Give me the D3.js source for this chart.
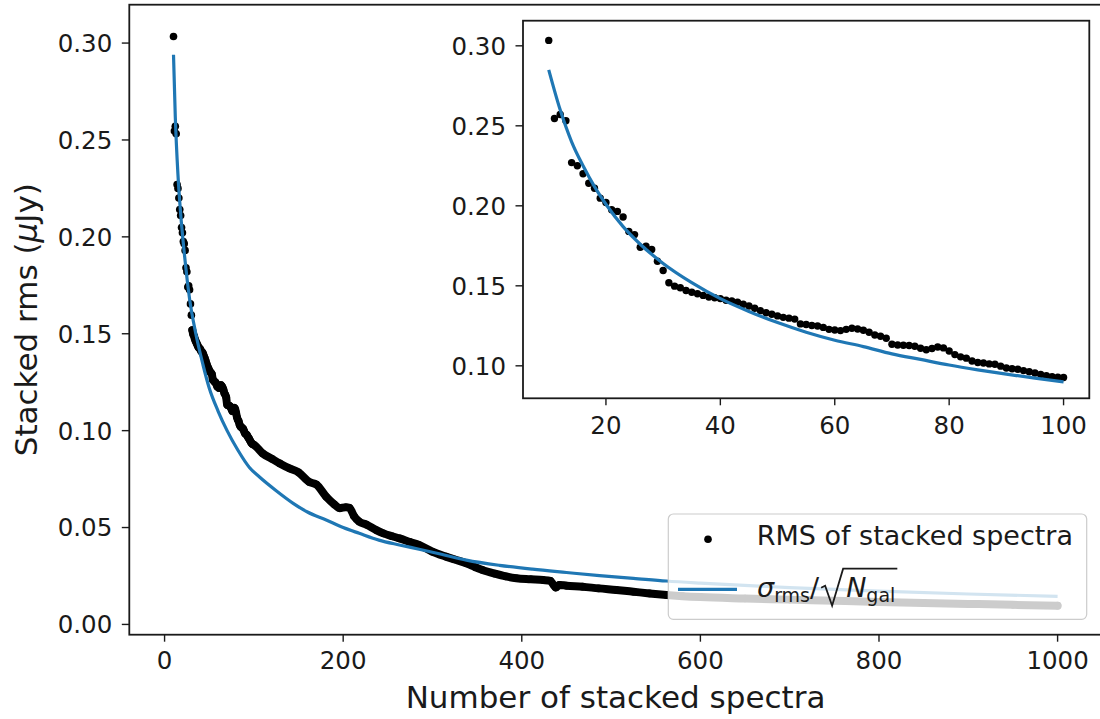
<!DOCTYPE html>
<html>
<head>
<meta charset="utf-8">
<script src="https://cdn.jsdelivr.net/npm/d3@7"></script>
<style>
  html, body { margin: 0; padding: 0; background: #fff; }
  svg { display: block; font-family: "DejaVu Sans", sans-serif; }
</style>
</head>
<body>
<script>
// rms of the stacked spectra, one value per N from 10 to 100
const denseN = d3.range(10, 101);
const denseRms = [
  0.3034, 0.2546, 0.2571, 0.2532, 0.2270, 0.2250, 0.2200, 0.2141, 0.2110, 0.2048,
  0.2021, 0.1976, 0.1965, 0.1930, 0.1840, 0.1820, 0.1741, 0.1747, 0.1727, 0.1654,
  0.1596, 0.1519, 0.1498, 0.1488, 0.1471, 0.1460, 0.1450, 0.1440, 0.1430, 0.1425,
  0.1420, 0.1410, 0.1405, 0.1398, 0.1385, 0.1374, 0.1360, 0.1345, 0.1332, 0.1322,
  0.1312, 0.1303, 0.1298, 0.1292, 0.1262, 0.1258, 0.1252, 0.1249, 0.1240, 0.1228,
  0.1224, 0.1220, 0.1228, 0.1235, 0.1230, 0.1222, 0.1210, 0.1193, 0.1185, 0.1172,
  0.1135, 0.1130, 0.1129, 0.1127, 0.1122, 0.1110, 0.1100, 0.1108, 0.1118, 0.1112,
  0.1093, 0.1070, 0.1056, 0.1048, 0.1030, 0.1021, 0.1018, 0.1012, 0.1010, 0.0998,
  0.0986, 0.0982, 0.0979, 0.0970, 0.0963, 0.0955, 0.0946, 0.0938, 0.0932, 0.0929,
  0.0927
];

// beyond N = 100
const sparseN = [
  110, 120, 129, 140, 150, 162, 170, 181, 190, 196, 203, 207, 212, 218, 226, 237,
  245, 255, 263, 275, 285, 300, 315, 325, 338, 348, 356, 370, 382, 394, 410, 424,
  432, 438, 442, 450, 468, 486, 506, 525, 543, 562, 580, 600, 650, 700, 750, 800,
  850, 900, 950, 1000
];
const sparseRms = [
  0.0882, 0.0855, 0.0831, 0.0805, 0.0785, 0.0735, 0.0722, 0.0659, 0.0620, 0.0600,
  0.0605, 0.0602, 0.0560, 0.0530, 0.0515, 0.0487, 0.0470, 0.0455, 0.0444, 0.0425,
  0.0410, 0.0375, 0.0350, 0.0335, 0.0315, 0.0295, 0.0281, 0.0262, 0.0248, 0.0238,
  0.0233, 0.0229, 0.0225, 0.0190, 0.0204, 0.0200, 0.0195, 0.0186, 0.0178, 0.0169,
  0.0160, 0.0152, 0.0146, 0.0141, 0.0134, 0.0128, 0.0122, 0.0116, 0.0111, 0.0106,
  0.0101, 0.0097
];

// sigma_rms / sqrt(N_gal) curves as drawn
const fitMainN = [
  10, 12, 15, 18, 22, 28, 35, 43, 50, 60, 70, 82, 95, 106, 125, 144, 160, 181, 200,
  218, 240, 263, 285, 310, 338, 375, 412, 450, 487, 525, 562, 600, 700, 800, 900, 1000
];
const fitMainRms = [
  0.294, 0.262, 0.232, 0.212, 0.192, 0.168, 0.150, 0.134, 0.122, 0.110, 0.100, 0.090,
  0.081, 0.0762, 0.069, 0.0625, 0.058, 0.0539, 0.050, 0.047, 0.0435, 0.041, 0.0388,
  0.0362, 0.0332, 0.0305, 0.0285, 0.0268, 0.0252, 0.0238, 0.0224, 0.0213, 0.0190,
  0.0172, 0.0157, 0.0145
];
const fitInsetN = [10, 12, 14, 16, 18, 20, 23, 26, 30, 35, 40, 45, 50, 55, 60, 65, 70, 75, 80, 85, 90, 95, 100];
const fitInsetRms = [
  0.285, 0.260, 0.240, 0.225, 0.212, 0.201, 0.187, 0.176, 0.164, 0.152, 0.142, 0.134,
  0.127, 0.121, 0.116, 0.112, 0.1075, 0.104, 0.1005, 0.0975, 0.0948, 0.0923, 0.090
];

const mainXTicks = [0, 200, 400, 600, 800, 1000];
const mainYTicks = [0, 0.05, 0.1, 0.15, 0.2, 0.25, 0.3];
const insetXTicks = [20, 40, 60, 80, 100];
const insetYTicks = [0.1, 0.15, 0.2, 0.25, 0.3];

const W = 1100, H = 719;
const BLUE = "#1f77b4";
const INK = "#1a1a1a";

const zip = (xs, ys) => xs.map((x, i) => ({ n: x, v: ys[i] }));
const dense = zip(denseN, denseRms);
const sparse = zip(sparseN, sparseRms);
const fitMain = zip(fitMainN, fitMainRms);
const fitInset = zip(fitInsetN, fitInsetRms);

const main = () => {
  const svg = d3.select("body").append("svg").attr("width", W).attr("height", H);

  const box = { l: 129.3, r: 1101.8, t: 4.7, b: 634.7 };
  const x = d3.scaleLinear().domain([-39.5, 1049.5]).range([box.l, box.r]);
  const y = d3.scaleLinear().domain([-0.0053, 0.3198]).range([box.b, box.t]);

  drawPanel(svg, x, y, box, {
    xTicks: mainXTicks,
    yTicks: mainYTicks,
    fmt: d3.format(".2f"),
    points: dense.concat(sparse),
    band: dense.filter((d) => d.n >= 31).concat(sparse),
    fit: fitMain,
    r: 3.8,
  });

  // axis labels
  svg
    .append("text")
    .attr("x", (box.l + box.r) / 2)
    .attr("y", 708)
    .attr("text-anchor", "middle")
    .attr("font-size", 31)
    .attr("fill", INK)
    .text("Number of stacked spectra");

  const yl = svg
    .append("text")
    .attr("transform", `translate(37,${(box.t + box.b) / 2}) rotate(-90)`)
    .attr("text-anchor", "middle")
    .attr("font-size", 31)
    .attr("fill", INK);
  yl.append("tspan").text("Stacked rms (");
  yl.append("tspan").attr("font-style", "italic").text("\u03bc");
  yl.append("tspan").text("Jy)");

  legend(svg);

  // inset
  const ibox = { l: 523, r: 1089.3, t: 20.7, b: 398.3 };
  const ix = d3.scaleLinear().domain([5.5, 104.5]).range([ibox.l, ibox.r]);
  const iy = d3.scaleLinear().domain([0.0797, 0.3157]).range([ibox.b, ibox.t]);
  svg
    .append("rect")
    .attr("x", ibox.l)
    .attr("y", ibox.t)
    .attr("width", ibox.r - ibox.l)
    .attr("height", ibox.b - ibox.t)
    .attr("fill", "#fff");
  drawPanel(svg, ix, iy, ibox, {
    xTicks: insetXTicks,
    yTicks: insetYTicks,
    fmt: d3.format(".2f"),
    xfmt: d3.format("d"),
    points: dense,
    band: [],
    fit: fitInset,
    r: 3.7,
    xLabelY: 434,
  });
};

const drawPanel = (svg, x, y, box, o) => {
  const g = svg.append("g");
  const clipId = "clip" + Math.round(box.l);
  g.append("clipPath")
    .attr("id", clipId)
    .append("rect")
    .attr("x", box.l)
    .attr("y", box.t)
    .attr("width", box.r - box.l)
    .attr("height", box.b - box.t);

  const plot = g.append("g").attr("clip-path", `url(#${clipId})`);

  // dense markers read as a thick band
  if (o.band.length) {
    plot
      .append("path")
      .datum(o.band)
      .attr("fill", "none")
      .attr("stroke", "#000")
      .attr("stroke-width", 8)
      .attr("stroke-linejoin", "round")
      .attr("stroke-linecap", "round")
      .attr("d", d3.line().curve(d3.curveMonotoneX).x((d) => x(d.n)).y((d) => y(d.v)));
  }

  plot
    .append("g")
    .selectAll("circle")
    .data(o.points)
    .join("circle")
    .attr("cx", (d) => x(d.n))
    .attr("cy", (d) => y(d.v))
    .attr("r", o.r)
    .attr("fill", "#000");

  plot
    .append("path")
    .datum(o.fit)
    .attr("fill", "none")
    .attr("stroke", BLUE)
    .attr("stroke-width", 3.2)
    .attr("d", d3.line().curve(d3.curveMonotoneX).x((d) => x(d.n)).y((d) => y(d.v)));

  // frame
  g.append("rect")
    .attr("x", box.l)
    .attr("y", box.t)
    .attr("width", box.r - box.l)
    .attr("height", box.b - box.t)
    .attr("fill", "none")
    .attr("stroke", INK)
    .attr("stroke-width", 1.8);

  const xfmt = o.xfmt || d3.format("d");
  const ax = g.append("g").attr("font-size", 24.5).attr("fill", INK);
  ax.selectAll("line.xt")
    .data(o.xTicks)
    .join("line")
    .attr("class", "xt")
    .attr("x1", (d) => x(d))
    .attr("x2", (d) => x(d))
    .attr("y1", box.b)
    .attr("y2", box.b + 7)
    .attr("stroke", INK)
    .attr("stroke-width", 1.4);
  ax.selectAll("text.xt")
    .data(o.xTicks)
    .join("text")
    .attr("class", "xt")
    .attr("x", (d) => x(d))
    .attr("y", o.xLabelY || box.b + 34)
    .attr("text-anchor", "middle")
    .text(xfmt);

  ax.selectAll("line.yt")
    .data(o.yTicks)
    .join("line")
    .attr("class", "yt")
    .attr("x1", box.l - 7.5)
    .attr("x2", box.l)
    .attr("y1", (d) => y(d))
    .attr("y2", (d) => y(d))
    .attr("stroke", INK)
    .attr("stroke-width", 1.4);
  ax.selectAll("text.yt")
    .data(o.yTicks)
    .join("text")
    .attr("class", "yt")
    .attr("x", box.l - 17)
    .attr("y", (d) => y(d) + 8.9)
    .attr("text-anchor", "end")
    .text(o.fmt);
};

const legend = (svg) => {
  const g = svg.append("g");
  g.append("rect")
    .attr("x", 668.3)
    .attr("y", 514)
    .attr("width", 418.4)
    .attr("height", 105.3)
    .attr("rx", 5)
    .attr("fill", "#fff")
    .attr("fill-opacity", 0.8)
    .attr("stroke", "#cccccc")
    .attr("stroke-width", 1.2);

  g.append("circle").attr("cx", 708).attr("cy", 539.3).attr("r", 3.8).attr("fill", "#000");
  g.append("text")
    .attr("x", 756.7)
    .attr("y", 545)
    .attr("font-size", 27)
    .attr("fill", INK)
    .text("RMS of stacked spectra");

  g.append("line")
    .attr("x1", 678)
    .attr("x2", 737)
    .attr("y1", 589.3)
    .attr("y2", 589.3)
    .attr("stroke", BLUE)
    .attr("stroke-width", 3.2);

  const base = 596.7;
  const t1 = g.append("text").attr("x", 757).attr("y", base).attr("font-size", 27).attr("fill", INK);
  t1.append("tspan").attr("font-style", "italic").text("\u03c3");
  t1.append("tspan").attr("font-size", 19).attr("dy", 5).text("rms");
  t1.append("tspan").attr("dy", -5).text("/");
  const x0 = 757 + t1.node().getComputedTextLength() + 1;

  const t2 = g.append("text").attr("x", x0 + 26).attr("y", base).attr("font-size", 27).attr("fill", INK);
  t2.append("tspan").attr("font-style", "italic").text("N");
  t2.append("tspan").attr("font-size", 19).attr("dy", 5).text("gal");
  const xEnd = x0 + 26 + t2.node().getComputedTextLength() + 2;

  const top = base - 28;
  g.append("path")
    .attr("fill", "none")
    .attr("stroke", INK)
    .attr("stroke-width", 1.8)
    .attr("stroke-linejoin", "miter")
    .attr(
      "d",
      `M${x0 + 1},${base - 9} L${x0 + 5},${base - 11} L${x0 + 12},${base + 9} L${x0 + 23},${top} H${xEnd}`
    );
};

document.addEventListener("DOMContentLoaded", main);
</script>
</body>
</html>
